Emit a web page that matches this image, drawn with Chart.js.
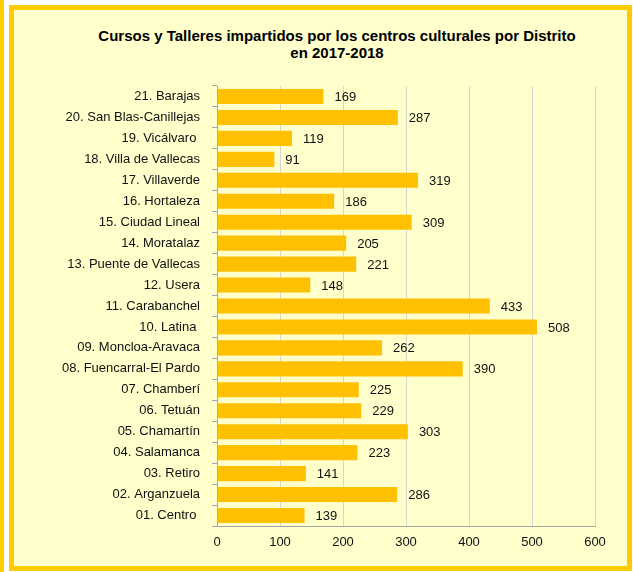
<!DOCTYPE html>
<html>
<head>
<meta charset="utf-8">
<script src="https://cdn.jsdelivr.net/npm/chart.js@4.4.1/dist/chart.umd.min.js"></script>
<style>
  body { margin: 0; background: #fff; width: 633px; height: 572px; position: relative; overflow: hidden; font-family: Arial, "Liberation Sans", sans-serif; }
  #strip { position: absolute; left: 0; top: 0; width: 4px; height: 572px; background: #FFCC00; }
  #box { position: absolute; left: 9px; top: 5px; width: 613px; height: 556px; border: 5px solid #FFCC00; background: #FFFFCC; }
  #title { position: absolute; left: 37px; top: 27px; width: 600px; text-align: center; font-weight: bold; font-size: 15px; line-height: 17px; color: #000; }
  #wrap { position: absolute; left: 14px; top: 60px; width: 613px; height: 506px; }
</style>
</head>
<body>
<div id="strip"></div>
<div id="box"></div>
<div id="title">Cursos y Talleres impartidos por los centros culturales por Distrito<br>en 2017-2018</div>
<div id="wrap"><canvas id="chart" width="613" height="506"></canvas></div>
<script>
const distritos = [
  '21. Barajas', '20. San Blas-Canillejas', '19. Vicálvaro ', '18. Villa de Vallecas',
  '17. Villaverde', '16. Hortaleza', '15. Ciudad Lineal', '14. Moratalaz',
  '13. Puente de Vallecas', '12. Usera', '11. Carabanchel', '10. Latina ',
  '09. Moncloa-Aravaca', '08. Fuencarral-El Pardo', '07. Chamberí', '06. Tetuán',
  '05. Chamartín', '04. Salamanca', '03. Retiro', '02. Arganzuela', '01. Centro '
];
const cursos = [169, 287, 119, 91, 319, 186, 309, 205, 221, 148, 433, 508, 262, 390, 225, 229, 303, 223, 141, 286, 139];
const xTicks = [0, 100, 200, 300, 400, 500, 600];

const fuente = 'Arial, "Liberation Sans", sans-serif';

// numbers at the end of each bar
const valueLabels = {
  id: 'valueLabels',
  afterDatasetsDraw(chart) {
    const ctx = chart.ctx;
    const meta = chart.getDatasetMeta(0);
    ctx.save();
    ctx.font = '13px ' + fuente;
    ctx.fillStyle = '#111';
    ctx.textAlign = 'left';
    ctx.textBaseline = 'middle';
    meta.data.forEach((bar, i) => {
      ctx.fillText(cursos[i], bar.x + 11, bar.y + 1);
    });
    ctx.restore();
  }
};

new Chart(document.getElementById('chart'), {
  type: 'bar',
  data: {
    labels: distritos,
    datasets: [{
      data: cursos,
      backgroundColor: '#FFC000',
      borderWidth: 0,
      barPercentage: 0.72,
      categoryPercentage: 1
    }]
  },
  options: {
    indexAxis: 'y',
    responsive: false,
    animation: false,
    layout: { padding: { top: 26, right: 32, bottom: 10, left: 0 } },
    plugins: { legend: { display: false }, tooltip: { enabled: false } },
    scales: {
      x: {
        min: 0, max: 600,
        afterBuildTicks(s) { s.ticks = xTicks.map(v => ({ value: v })); },
        afterFit(s) { s.height = 30; },
        grid: { color: '#D6D6D0', drawTicks: false },
        border: { color: '#A6A6A6' },
        ticks: { padding: 9, color: '#111', font: { family: fuente, size: 13 } }
      },
      y: {
        afterFit(s) { s.width = 203; },
        grid: { drawOnChartArea: false, tickLength: 5, color: '#A6A6A6', offset: true },
        border: { color: '#A6A6A6' },
        ticks: { padding: 12, autoSkip: false, color: '#111', font: { family: fuente, size: 13 } }
      }
    }
  },
  plugins: [valueLabels]
});
</script>
</body>
</html>
